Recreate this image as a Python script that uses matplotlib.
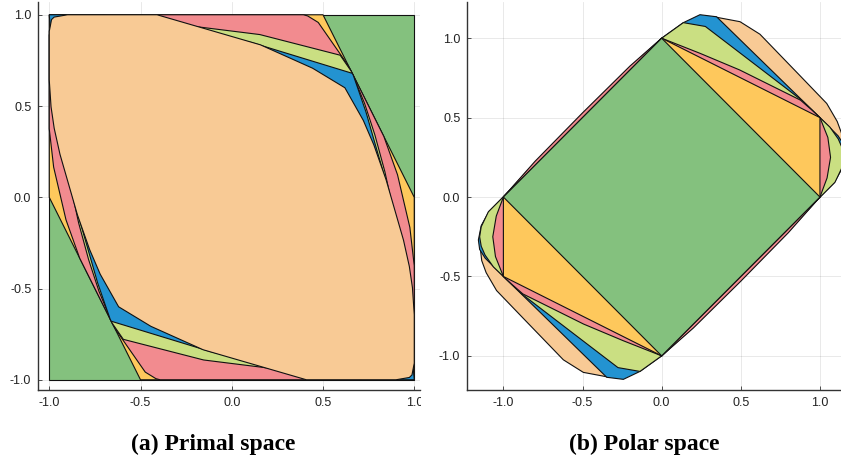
import numpy as np
import matplotlib
matplotlib.use("Agg")
import matplotlib.pyplot as plt
from matplotlib.patches import Rectangle

# boundary points (upper-right half, counter-clockwise).
# every body is symmetric through the origin, so the other half is just -pts.
# the primal bodies are not read separately: they are the polars of these.
green_half = [(1.0, 0.0), (0.0, 1.0)]
yellow_half = [(1.0, 0.0), (1.0, 0.5), (0.0, 1.0)]
pink_half = [(1.0, 0.0), (1.045, 0.12), (1.067, 0.25), (1.05, 0.375), (1.0, 0.5),
             (0.946, 0.55), (0.877, 0.61), (0.493, 0.80), (0.242, 0.905), (0.0, 1.0),
             (-0.2, 0.825), (-0.5, 0.53), (-0.8, 0.225)]
lgreen_half = [(1.0, 0.0), (1.095, 0.093), (1.14, 0.187), (1.15, 0.25), (1.14, 0.31),
               (1.116, 0.365), (1.063, 0.44), (1.0, 0.5), (0.884, 0.61), (0.663, 0.779),
               (0.452, 0.94), (0.276, 1.074), (0.137, 1.098), (0.0, 1.0)]
blue_half = [(1.0, 0.0), (1.09, 0.09), (1.14, 0.18), (1.158, 0.27), (1.15, 0.33),
             (1.115, 0.385), (1.031, 0.467), (1.0, 0.5), (0.347, 1.135), (0.242, 1.148),
             (0.137, 1.098), (0.0, 1.0)]
orange_half = [(1.0, 0.0), (1.045, 0.07), (1.09, 0.16), (1.125, 0.25), (1.145, 0.33),
               (1.137, 0.40), (1.109, 0.476), (1.043, 0.589), (0.874, 0.764), (0.804, 0.836),
               (0.621, 1.025), (0.495, 1.104), (0.33, 1.135), (0.0, 1.0),
               (-0.15, 0.865), (-0.5, 0.52), (-0.85, 0.165)]

# smallest body in polar space first
halves = [green_half, yellow_half, pink_half, lgreen_half, blue_half, orange_half]
colors = ["#84c17e", "#fec85c", "#f28b8f", "#cadf82", "#2393d1", "#f8ca95"]

ticks = [-1.0, -0.5, 0.0, 0.5, 1.0]
tick_labels = ["-1.0", "-0.5", "0.0", "0.5", "1.0"]
captions = ["(a) Primal space", "(b) Polar space"]


def full_ring(half):
	pts = np.array(half, dtype=float)
	return np.vstack([pts, -pts])


def hull(pts):
	# monotone chain, counter-clockwise
	pts = sorted(map(tuple, pts))
	def cross(o, a, b):
		return (a[0]-o[0])*(b[1]-o[1]) - (a[1]-o[1])*(b[0]-o[0])
	lower, upper = [], []
	for p in pts:
		while len(lower) >= 2 and cross(lower[-2], lower[-1], p) <= 0:
			lower.pop()
		lower.append(p)
	for p in reversed(pts):
		while len(upper) >= 2 and cross(upper[-2], upper[-1], p) <= 0:
			upper.pop()
		upper.append(p)
	return np.array(lower[:-1] + upper[:-1])


def polar_of(pts):
	# each edge a-b of the polygon gives the vertex y with a.y = b.y = 1
	p = hull(pts)
	q = np.roll(p, -1, axis=0)
	return np.array([np.linalg.solve(np.array([a, b]), np.ones(2)) for a, b in zip(p, q)])


def style_axes(ax, xlim, ylim):
	ax.set_xlim(*xlim)
	ax.set_ylim(*ylim)
	ax.set_xticks(ticks)
	ax.set_xticklabels(tick_labels)
	ax.set_yticks(ticks)
	ax.set_yticklabels(tick_labels)
	ax.grid(True, color="#000000", alpha=0.1, lw=0.6)
	ax.set_axisbelow(True)
	for s in ["top", "right"]:
		ax.spines[s].set_visible(False)
	for s in ["left", "bottom"]:
		ax.spines[s].set_color("#333333")
		ax.spines[s].set_linewidth(1.0)
	ax.tick_params(direction="in", length=3, width=0.6, colors="#333333",
	               labelsize=9, pad=5, labelcolor="#222222")


plt.rcParams["font.family"] = ["Liberation Sans", "DejaVu Sans"]
fig = plt.figure(figsize=(8.41, 4.65), dpi=100)
ax1 = fig.add_axes([38.3/841, 75/465, (420-38.3)/841, 388/465])
ax2 = fig.add_axes([467.3/841, 75/465, (841-467.3)/841, 388/465])

bodies = [full_ring(h) for h in halves]

# primal: largest (the square) at the bottom
for body, c in zip(bodies, colors):
	prim = polar_of(body)
	ax1.fill(prim[:, 0], prim[:, 1], facecolor=c, edgecolor="#111111", lw=0.8)

# polar: largest at the bottom
for body, c in reversed(list(zip(bodies, colors))):
	poly = hull(body)
	ax2.fill(poly[:, 0], poly[:, 1], facecolor=c, edgecolor="#111111", lw=0.8)

style_axes(ax1, (-1.06, 1.0315), (-1.056, 1.07))
style_axes(ax2, (-1.228, 1.133), (-1.215, 1.228))

# the left panel is cut just after x = 1 in the original
fig.add_artist(Rectangle((421/841, 50/465), 12/841, 24/465, transform=fig.transFigure,
                         facecolor="white", edgecolor="none", zorder=10))

for x, txt in zip([213/841, 644/841], captions):
	fig.text(x, (465-444)/465, txt, ha="center", va="center", fontsize=17,
	         fontweight="bold", family=["Liberation Serif", "DejaVu Serif"])

fig.savefig("out.png", dpi=100)
